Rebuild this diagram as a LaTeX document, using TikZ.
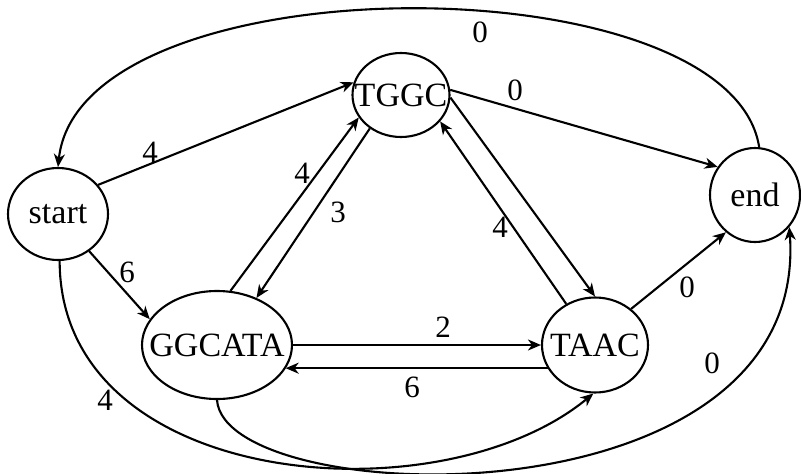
\documentclass[tikz,border=0pt]{standalone}
\usepackage{fontspec}
\setmainfont{Liberation Serif}
\usetikzlibrary{shapes.geometric,arrows.meta}
\begin{document}
\begin{tikzpicture}[x=1pt,y=-1pt,
  font=\fontsize{31}{37}\selectfont,
  st/.style={ellipse,draw,line width=2.1pt,inner sep=0pt,
    label={[font=\fontsize{34}{40}\selectfont]center:#1}},
  arr/.style={line width=2.1pt,-{Stealth[length=13pt,width=11pt,inset=4pt]}},
  wt/.style={inner sep=0pt}]
\useasboundingbox (0,0) rectangle (801,474);
\node[st={start},minimum width=100pt,minimum height=92pt] (s) at (58,214) {};
\node[st={TGGC},minimum width=97pt,minimum height=84pt] (tg) at (401,95) {};
\node[st={end},minimum width=90pt,minimum height=94pt] (e) at (755,195) {};
\node[st={GGCATA},minimum width=150pt,minimum height=108pt] (g) at (217,345) {};
\node[st={TAAC},minimum width=106pt,minimum height=95pt] (ta) at (595,345) {};
% edges
\draw[arr] (s.36) -- (tg.165);
\draw[arr] (s.-50) -- (g.159);
\draw[arr] (g.76) -- (tg.208);
\draw[arr] (tg.227) -- (g.50);
\draw[arr] (tg.6) -- (e.143);
\draw[arr] (tg.-3) -- (ta.90);
\draw[arr] (ta.125) -- (tg.-34);
\draw[arr] (g.east) -- (ta.west);
\draw[arr] (ta.206) -- (ta.206 -| g.-19);
\draw[arr] (ta.45) -- (e.232);
\draw[arr] (e.85) .. controls (730,-40) and (80,-40) .. (s.90);
\draw[arr] (s.-88) .. controls (60,490) and (440,520) .. (ta.268);
\draw[arr] (g.-90) .. controls (225,510) and (810,530) .. (e.-43);
% weights
\node[wt] (w1) at (480,32) {0};
\node[wt] (w2) at (150,152) {4};
\node[wt] (w3) at (515,90) {0};
\node[wt] (w4) at (302,173) {4};
\node[wt] (w5) at (338,212) {3};
\node[wt] (w6) at (500,227) {4};
\node[wt] (w7) at (127,272) {6};
\node[wt] (w8) at (443,327) {2};
\node[wt] (w9) at (412,387) {6};
\node[wt] (w10) at (687,287) {0};
\node[wt] (w11) at (712,363) {0};
\node[wt] (w12) at (105,400) {4};
\end{tikzpicture}
\end{document}
